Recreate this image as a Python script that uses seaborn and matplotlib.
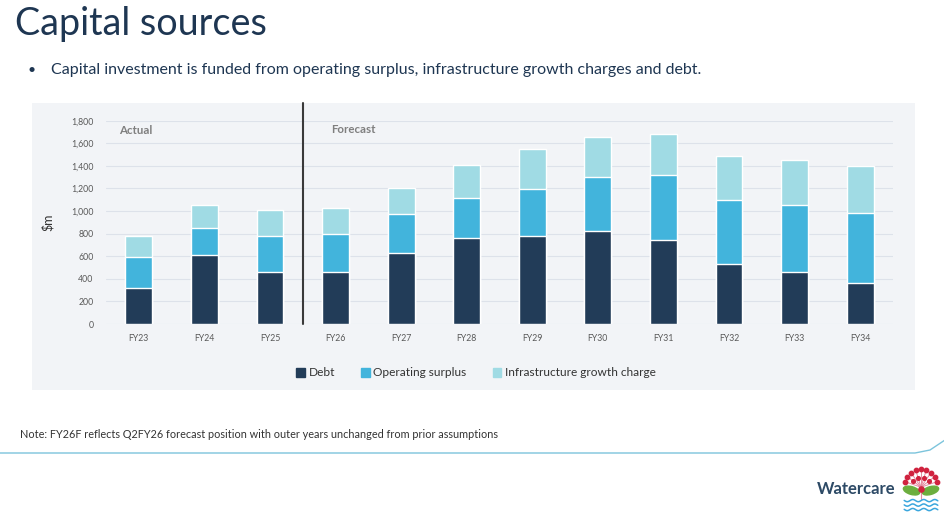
import numpy as np
import pandas as pd
import matplotlib.pyplot as plt
import seaborn as sns
from matplotlib.patches import Rectangle, Patch, Ellipse
from matplotlib.lines import Line2D

# Datos ($m)
years = ['FY23', 'FY24', 'FY25', 'FY26', 'FY27', 'FY28',
         'FY29', 'FY30', 'FY31', 'FY32', 'FY33', 'FY34']
debt = [322, 611, 460, 463, 626, 758, 782, 823, 744, 534, 460, 366]
operating_surplus = [268, 242, 322, 331, 348, 357, 416, 478, 575, 564, 594, 617]
growth_charge = [189, 200, 224, 233, 230, 293, 351, 354, 363, 389, 401, 416]

df = pd.DataFrame({'year': years, 'debt': debt,
                   'op': operating_surplus, 'igc': growth_charge})
df['debt_op'] = df['debt'] + df['op']
df['total'] = df['debt_op'] + df['igc']

c_debt = '#223c58'
c_op = '#42b4dc'
c_igc = '#a0dbe4'
c_title = '#1e3652'

sns.set_style('white')
plt.rcParams['font.family'] = ['Lato', 'DejaVu Sans']

fig = plt.figure(figsize=(9.45, 5.2), dpi=100)
W, H = 945, 520

def box(x0, y0, x1, y1):
    return [x0 / W, 1 - y1 / H, (x1 - x0) / W, (y1 - y0) / H]

# Fondo del panel del grafico
bg = box(32, 103, 915, 390)
fig.patches.append(Rectangle((bg[0], bg[1]), bg[2], bg[3], transform=fig.transFigure,
                             facecolor='#f2f4f7', edgecolor='none', zorder=-10))

ax = fig.add_axes(box(106, 120.7, 893, 324))
ax.set_facecolor('none')

# Barras apiladas: total, luego deuda+superavit, luego deuda
sns.barplot(data=df, x='year', y='total', color=c_igc, width=0.41, saturation=1, ax=ax, zorder=2)
sns.barplot(data=df, x='year', y='debt_op', color=c_op, width=0.41, saturation=1, ax=ax, zorder=2)
sns.barplot(data=df, x='year', y='debt', color=c_debt, width=0.41, saturation=1, ax=ax, zorder=2)

ax.set_xlim(-0.5, 11.5)
ax.set_ylim(0, 1800)
ax.set_yticks(range(0, 1801, 200))
ax.set_yticklabels([f'{v:,}' for v in range(0, 1801, 200)])
ax.yaxis.grid(True, color='#dde2ea', linewidth=0.8, zorder=0)
ax.set_axisbelow(True)
for s in ax.spines.values():
    s.set_visible(False)
ax.tick_params(axis='both', length=0, labelsize=6.3, colors='#595959')
ax.tick_params(axis='x', pad=7)
ax.tick_params(axis='y', pad=9)
ax.set_xlabel('')
ax.set_ylabel('$m', fontsize=9, color='#333333', labelpad=12)

# Separador Actual / Forecast
ax.axvline(2.5, ymin=0, ymax=(324 - 103) / 203.3, color='#3a3a3a', linewidth=1.5,
           clip_on=False, zorder=3)
ax.text(-0.3, 1710, 'Actual', fontsize=8.3, fontweight='bold', color='#7f7f7f', va='center')
ax.text(2.93, 1720, 'Forecast', fontsize=8.3, fontweight='bold', color='#7f7f7f', va='center')

handles = [Patch(color=c_debt), Patch(color=c_op), Patch(color=c_igc)]
fig.legend(handles, ['Debt', 'Operating surplus', 'Infrastructure growth charge'],
           loc='center', bbox_to_anchor=(476 / W, 1 - 373 / H), ncol=3, frameon=False,
           fontsize=8.6, handlelength=0.7, handleheight=0.7, handletextpad=0.3,
           columnspacing=2.2, labelcolor='#333333')

# Textos de la diapositiva
fig.text(15 / W, 1 - 35 / H, 'Capital sources', fontsize=27.2, color=c_title, va='baseline')
fig.text(28 / W, 1 - 70 / H, '\u2022', fontsize=10, color=c_title, va='center')
fig.text(51 / W, 1 - 70 / H,
         'Capital investment is funded from operating surplus, infrastructure growth charges and debt.',
         fontsize=11.5, color=c_title, va='center')
fig.text(20 / W, 1 - 435 / H,
         'Note: FY26F reflects Q2FY26 forecast position with outer years unchanged from prior assumptions',
         fontsize=7.8, color='#333333', va='center')

fig.lines.append(Line2D([0, 915 / W, 930 / W, 945 / W],
                        [1 - 453 / H, 1 - 453 / H, 1 - 450 / H, 1 - 440 / H],
                        transform=fig.transFigure, color='#7cc4dc', linewidth=1))
fig.text(895 / W, 1 - 489 / H, 'Watercare', fontsize=12, fontweight='bold',
         color='#2d4a66', ha='right', va='center')

# Logo sencillo (flor, hojas y olas)
lg = fig.add_axes(box(900, 466, 942, 514))
lg.set_xlim(-1, 1)
lg.set_ylim(-1.15, 1)
lg.axis('off')
ang = np.linspace(np.pi * 0.1, np.pi * 0.9, 9)
for a in ang:
    lg.plot([0, 0.75 * np.cos(a)], [0.05, 0.05 + 0.75 * np.sin(a)], color='#e58aa0', lw=0.7)
lg.scatter(0.8 * np.cos(ang), 0.05 + 0.8 * np.sin(ang), s=10, color='#d0233f', zorder=3)
lg.scatter(0.45 * np.cos(ang[1::2]), 0.05 + 0.45 * np.sin(ang[1::2]), s=7, color='#d0233f', zorder=3)
lg.add_patch(Ellipse((-0.45, -0.1), 0.8, 0.35, angle=-15, color='#6cae3e'))
lg.add_patch(Ellipse((0.45, -0.1), 0.8, 0.35, angle=15, color='#6cae3e'))
lg.scatter([0], [-0.05], s=14, color='#d0233f', zorder=4)
lg.plot([0, 0], [-0.05, -0.5], color='#e58aa0', lw=0.8)
xw = np.linspace(-0.8, 0.8, 40)
for yy in [-0.55, -0.75, -0.95]:
    lg.plot(xw, yy + 0.05 * np.sin(xw * 12), color='#3aa6dd', lw=1.1)

fig.savefig('out.png', dpi=100)
